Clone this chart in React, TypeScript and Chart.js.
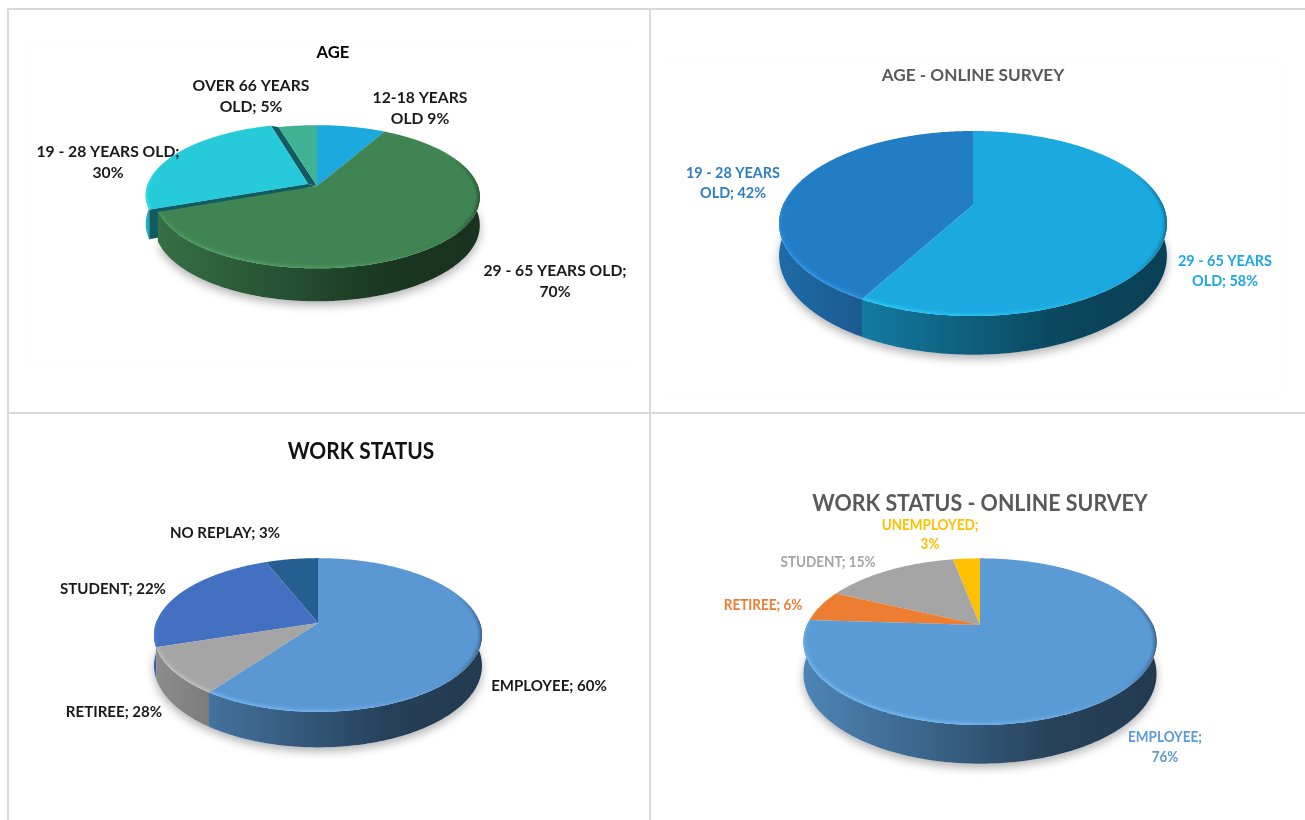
import React, { useEffect, useRef } from "react";
import { Chart, registerables } from "chart.js";

Chart.register(...registerables);

// ---------- data ----------
const ageCategories = ["12-18 YEARS OLD", "29 - 65 YEARS OLD", "19 - 28 YEARS OLD", "OVER 66 YEARS OLD"];
const ageValues = [9, 70, 30, 5];
const ageColors = ["#1BA9E0", "#3F8452", "#26CAD8", "#3FB393"];
const ageOffsets = [0, 0, 10, 0];

const ageOnlineCategories = ["29 - 65 YEARS OLD", "19 - 28 YEARS OLD"];
const ageOnlineValues = [58, 42];
const ageOnlineColors = ["#1BA9E0", "#237DC4"];

const workCategories = ["EMPLOYEE", "RETIREE", "STUDENT", "NO REPLAY"];
const workValues = [60, 10, 24, 6];
const workColors = ["#5B98D3", "#A5A5A5", "#4470C1", "#255E91"];

const workOnlineCategories = ["EMPLOYEE", "RETIREE", "STUDENT", "UNEMPLOYED"];
const workOnlineValues = [76, 6, 15, 3];
const workOnlineColors = ["#5B9BD5", "#ED7D31", "#A5A5A5", "#FFC000"];

type Txt = { lines: string[]; x: number; y: number; size: number; color: string; sx?: number; lh?: number };

const ageTexts: Txt[] = [
  { lines: ["AGE"], x: 333, y: 53, size: 17, color: "#000" },
  { lines: ["OVER 66 YEARS", "OLD; 5%"], x: 251, y: 86, size: 16, color: "#1a1a1a", lh: 21 },
  { lines: ["12-18 YEARS", "OLD 9%"], x: 420, y: 98, size: 16, color: "#1a1a1a", lh: 21 },
  { lines: ["19 - 28 YEARS OLD;", "30%"], x: 108, y: 152, size: 16, color: "#1a1a1a", lh: 21 },
  { lines: ["29 - 65 YEARS OLD;", "70%"], x: 555, y: 271, size: 16, color: "#1a1a1a", lh: 21 },
];
const ageOnlineTexts: Txt[] = [
  { lines: ["AGE - ONLINE SURVEY"], x: 973, y: 75, size: 17.5, color: "#595959" },
  { lines: ["19 - 28 YEARS", "OLD; 42%"], x: 733, y: 173, size: 14.7, color: "#2E7EBF", lh: 20 },
  { lines: ["29 - 65 YEARS", "OLD; 58%"], x: 1225, y: 261, size: 14.7, color: "#1BA9E0", lh: 20 },
];
const workTexts: Txt[] = [
  { lines: ["WORK STATUS"], x: 361, y: 452, size: 22.5, color: "#111", sx: 0.93 },
  { lines: ["NO REPLAY; 3%"], x: 225, y: 533, size: 16, color: "#1a1a1a", sx: 0.94 },
  { lines: ["STUDENT; 22%"], x: 113, y: 589, size: 16, color: "#1a1a1a", sx: 0.94 },
  { lines: ["RETIREE; 28%"], x: 114, y: 712, size: 16, color: "#1a1a1a", sx: 0.94 },
  { lines: ["EMPLOYEE; 60%"], x: 549, y: 686, size: 16, color: "#1a1a1a", sx: 0.94 },
];
const workOnlineTexts: Txt[] = [
  { lines: ["WORK STATUS - ONLINE SURVEY"], x: 980, y: 503, size: 23.5, color: "#595959", sx: 0.91 },
  { lines: ["UNEMPLOYED;", "3%"], x: 930, y: 525, size: 15, color: "#FFC000", lh: 19, sx: 0.9 },
  { lines: ["STUDENT; 15%"], x: 828, y: 562, size: 15, color: "#A5A5A5", sx: 0.9 },
  { lines: ["RETIREE; 6%"], x: 763, y: 605, size: 15, color: "#ED7D31", sx: 0.9 },
  { lines: ["EMPLOYEE;", "76%"], x: 1165, y: 737, size: 15, color: "#5B9BD5", lh: 20, sx: 0.9 },
];

// ---------- panel set-up ----------
type Panel = {
  box: { left: number; top: number; width: number; height: number };
  cx: number; cy: number; radius: number; aspect: number; persp: number; depth: number;
  categories: string[]; values: number[]; colors: string[]; offsets: number[]; texts: Txt[];
};

const panels: Panel[] = [
  { box: { left: 0, top: 0, width: 650, height: 412 }, cx: 317, cy: 186, radius: 161, aspect: 70 / 161, persp: 0.15, depth: 28,
    categories: ageCategories, values: ageValues, colors: ageColors, offsets: ageOffsets, texts: ageTexts },
  { box: { left: 650, top: 0, width: 655, height: 412 }, cx: 973, cy: 205, radius: 190, aspect: 88.8 / 190, persp: 0.2, depth: 31,
    categories: ageOnlineCategories, values: ageOnlineValues, colors: ageOnlineColors, offsets: [0, 0], texts: ageOnlineTexts },
  { box: { left: 0, top: 412, width: 650, height: 408 }, cx: 318, cy: 623, radius: 162, aspect: 75 / 162, persp: 0.156, depth: 30,
    categories: workCategories, values: workValues, colors: workColors, offsets: [0, 0, 0, 0], texts: workTexts },
  { box: { left: 650, top: 412, width: 655, height: 408 }, cx: 980, cy: 625, radius: 173, aspect: 80 / 173, persp: 0.2, depth: 31,
    categories: workOnlineCategories, values: workOnlineValues, colors: workOnlineColors, offsets: [0, 0, 0, 0], texts: workOnlineTexts },
];

const rgb = (hex: string) => {
  const n = parseInt(hex.slice(1), 16);
  return [(n >> 16) & 255, (n >> 8) & 255, n & 255];
};
const shade = (hex: string, f: number, a = 1) => {
  const [r, g, b] = rgb(hex).map((v) => Math.min(255, Math.round(v * f + (f > 1 ? 18 : 0))));
  return `rgba(${r},${g},${b},${a})`;
};

function pie3dPlugin(p: Panel) {
  return {
    id: "pie3d",
    beforeDatasetsDraw(chart: any) {
      const ctx: CanvasRenderingContext2D = chart.ctx;
      const arcs: any[] = chart.getDatasetMeta(0).data;
      const project = (el: any, ux: number, uy: number, drop = 0) => {
        const w = 1 - p.persp * uy;
        return {
          x: el.x + (el.outerRadius * ux) / w,
          y: el.y + (el.outerRadius * p.aspect * uy) / w + drop / w,
        };
      };
      const items = arcs.map((el, i) => {
        const a = el.startAngle + Math.PI / 2;
        const b = el.endAngle + Math.PI / 2;
        const mid = (a + b) / 2;
        const off = (el.options.offset || 0) / el.outerRadius;
        const ox = off * Math.sin(mid);
        const oy = -off * Math.cos(mid);
        return { el, a, b, mid, ox, oy, off, color: p.colors[i] };
      });
      const order = [...items].sort((m, n) => n.off - m.off || Math.cos(n.mid) - Math.cos(m.mid));
      const samples = (it: any) => {
        const out: number[] = [];
        const n = Math.max(2, Math.ceil((it.b - it.a) / 0.01));
        for (let i = 0; i <= n; i++) out.push(it.a + ((it.b - it.a) * i) / n);
        return out;
      };
      const pt = (it: any, t: number, drop = 0) =>
        project(it.el, it.ox + Math.sin(t), it.oy - Math.cos(t), drop);

      // soft shadow under the pie
      ctx.save();
      ctx.shadowColor = "rgba(0,0,0,0.30)";
      ctx.shadowBlur = 10;
      ctx.shadowOffsetY = 4;
      ctx.fillStyle = "#fff";
      for (const it of items) {
        if (it.off > 0) continue;
        ctx.beginPath();
        const v = project(it.el, it.ox, it.oy, p.depth);
        ctx.moveTo(v.x, v.y);
        for (const t of samples(it)) {
          const q = pt(it, t, p.depth);
          ctx.lineTo(q.x, q.y);
        }
        ctx.closePath();
        ctx.fill();
      }
      ctx.restore();

      for (const it of order) {
        const { el } = it;
        const grad = ctx.createLinearGradient(el.x - el.outerRadius, 0, el.x + el.outerRadius, 0);
        grad.addColorStop(0, shade(it.color, 0.85));
        grad.addColorStop(0.72, shade(it.color, 0.42));
        grad.addColorStop(1, shade(it.color, 0.38));

        // inner walls of a pulled-out slice
        if (it.off > 0) {
          ctx.fillStyle = shade(it.color, 0.45);
          const v0 = project(el, it.ox, it.oy);
          const v1 = project(el, 0, 0);
          // the gap the slice leaves behind
          for (const t of [it.a, it.b]) {
            const e0 = pt(it, t);
            const e1 = project(el, Math.sin(t), -Math.cos(t));
            ctx.beginPath();
            ctx.moveTo(v0.x, v0.y);
            ctx.lineTo(e0.x, e0.y);
            ctx.lineTo(e1.x, e1.y);
            ctx.lineTo(v1.x, v1.y);
            ctx.closePath();
            ctx.fill();
          }
          // the wall under its leading edge, seen beside the next slice
          const vd = project(el, it.ox, it.oy, p.depth);
          const e0 = pt(it, it.a);
          const e1 = pt(it, it.a, p.depth);
          ctx.beginPath();
          ctx.moveTo(v0.x, v0.y);
          ctx.lineTo(e0.x, e0.y);
          ctx.lineTo(e1.x, e1.y);
          ctx.lineTo(vd.x, vd.y);
          ctx.closePath();
          ctx.fill();
        }

        // outer wall: only the half that faces the viewer
        const ts = samples(it);
        const wallTs = ts.filter((t) => Math.cos(t) < 0.05);
        if (wallTs.length > 1) {
          ctx.fillStyle = grad;
          ctx.beginPath();
          wallTs.forEach((t, i) => {
            const q = pt(it, t);
            if (i === 0) ctx.moveTo(q.x, q.y);
            else ctx.lineTo(q.x, q.y);
          });
          [...wallTs].reverse().forEach((t) => {
            const q = pt(it, t, p.depth);
            ctx.lineTo(q.x, q.y);
          });
          ctx.closePath();
          ctx.fill();
        }

        // top face
        const v = project(el, it.ox, it.oy);
        const facePath = () => {
          ctx.beginPath();
          ctx.moveTo(v.x, v.y);
          ts.forEach((t) => {
            const q = pt(it, t);
            ctx.lineTo(q.x, q.y);
          });
          ctx.closePath();
        };
        ctx.fillStyle = el.options.backgroundColor;
        facePath();
        ctx.fill();

        // bevel along the rim
        ctx.save();
        facePath();
        ctx.clip();
        ctx.lineCap = "butt";
        const deg = Math.PI / 180;
        for (let i = 0; i < ts.length - 1; i++) {
          const t = ts[i];
          const d = ((t / deg) % 360 + 360) % 360;
          let style = "";
          let strength = 0;
          if (d > 65 && d <= 135) {
            strength = Math.sin(((d - 65) / 70) * Math.PI) * 0.32;
            style = "dark";
          } else if (d > 135 && d < 295) {
            strength = Math.sin(((d - 135) / 160) * Math.PI) * 0.75;
            style = "light";
          }
          if (strength <= 0.01) continue;
          const q0 = pt(it, t);
          const q1 = pt(it, ts[i + 1]);
          for (const [lw, al] of [[9, 0.18], [6, 0.3], [3, 0.55]]) {
            ctx.strokeStyle = style === "light"
              ? shade(it.color, 1.16, strength * al)
              : `rgba(0,0,0,${strength * al})`;
            ctx.lineWidth = lw;
            ctx.beginPath();
            ctx.moveTo(q0.x, q0.y);
            ctx.lineTo(q1.x, q1.y);
            ctx.stroke();
          }
        }
        ctx.restore();
      }
      return false;
    },
  };
}

function textPlugin(p: Panel) {
  return {
    id: "panelTexts",
    afterDraw(chart: any) {
      const ctx: CanvasRenderingContext2D = chart.ctx;
      ctx.save();
      ctx.textAlign = "center";
      ctx.textBaseline = "middle";
      for (const t of p.texts) {
        ctx.font = `bold ${t.size}px Lato, "Open Sans", sans-serif`;
        ctx.fillStyle = t.color;
        t.lines.forEach((line, i) => {
          const w = ctx.measureText(line).width * (t.sx ?? 0.98);
          ctx.fillText(line, t.x - p.box.left, t.y - p.box.top + i * (t.lh ?? 0), w);
        });
      }
      ctx.restore();
    },
  };
}

function PiePanel({ panel }: { panel: Panel }) {
  const ref = useRef<HTMLCanvasElement | null>(null);
  useEffect(() => {
    if (!ref.current) return;
    const { box, cx, cy, radius } = panel;
    const lx = cx - box.left;
    const ly = cy - box.top;
    const chart = new Chart(ref.current, {
      type: "pie",
      data: {
        labels: panel.categories,
        datasets: [
          {
            data: panel.values,
            backgroundColor: panel.colors,
            offset: panel.offsets,
            borderWidth: 0,
            radius,
          } as any,
        ],
      },
      options: {
        animation: false,
        responsive: false,
        layout: {
          padding: {
            left: Math.max(0, 2 * lx - box.width),
            right: Math.max(0, box.width - 2 * lx),
            top: Math.max(0, 2 * ly - box.height),
            bottom: Math.max(0, box.height - 2 * ly),
          },
        },
        plugins: { legend: { display: false }, tooltip: { enabled: false }, title: { display: false } },
      },
      plugins: [pie3dPlugin(panel), textPlugin(panel)],
    });
    return () => chart.destroy();
  }, [panel]);
  const { left, top, width, height } = panel.box;
  return (
    <canvas
      ref={ref}
      width={width}
      height={height}
      style={{ position: "absolute", left, top, width, height, display: "block", filter: "blur(0.4px)" }}
    />
  );
}

const line = (left: number, top: number, width: number, height: number) => (
  <div style={{ position: "absolute", left, top, width, height, background: "#D9D9D9" }} />
);
const frame = (left: number, top: number, width: number, height: number) => (
  <div style={{ position: "absolute", left, top, width, height, border: "1px solid #FCFCFC", boxSizing: "border-box" }} />
);

export default function App() {
  return (
    <div style={{ position: "fixed", left: 0, top: 0, width: 1305, height: 820, background: "#fff", overflow: "hidden" }}>
      {line(7, 8, 1298, 2)}
      {line(7, 412, 1298, 2)}
      {line(7, 8, 2, 812)}
      {line(649, 8, 2, 812)}
      {frame(29, 40, 600, 327)}
      {frame(667, 63, 614, 330)}
      {panels.map((p, i) => (
        <PiePanel key={i} panel={p} />
      ))}
    </div>
  );
}
